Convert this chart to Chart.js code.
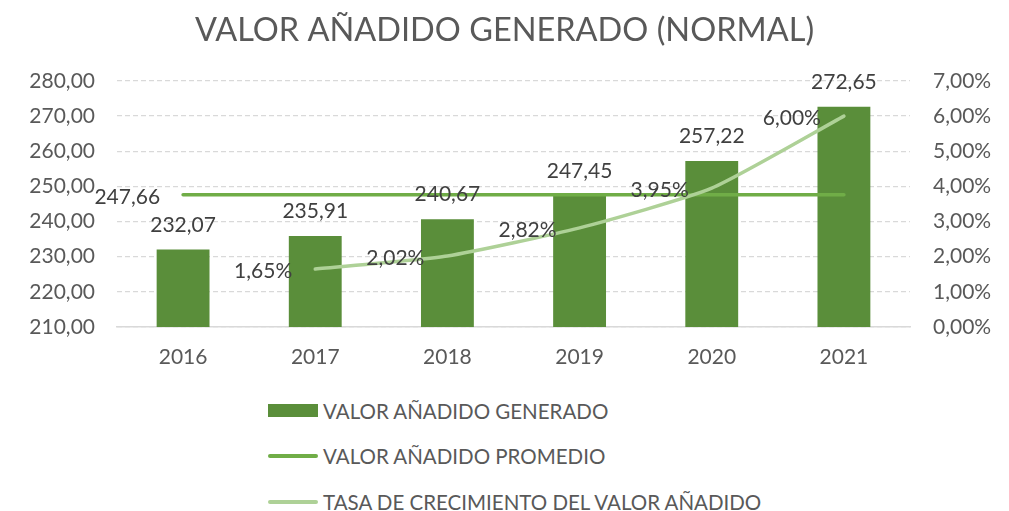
<!DOCTYPE html>
<html lang="es">
<head>
<meta charset="utf-8">
<title>Valor añadido generado</title>
<script src="https://cdn.jsdelivr.net/npm/chart.js@4.4.1/dist/chart.umd.min.js"></script>
<style>
  html, body { margin: 0; padding: 0; background: #fff; }
  body { width: 1009px; height: 511px; position: relative; overflow: hidden; font-family: Lato, sans-serif; }
  #wrap { position: absolute; left: 0; top: 0; width: 1009px; height: 385px; }
  #legend { position: absolute; left: 268px; top: 388px; }
  .item { display: flex; align-items: center; height: 45.5px; color: #595959; font-size: 20.5px; line-height: 1; }
  .swatch { width: 50px; margin-right: 5px; }
</style>
</head>
<body>
<div id="wrap"><canvas id="chart"></canvas></div>
<div id="legend"></div>
<script>
// Valor añadido

const YEARS = ['2016', '2017', '2018', '2019', '2020', '2021'];
const VALOR_GENERADO = [232.07, 235.91, 240.67, 247.45, 257.22, 272.65];
const VALOR_PROMEDIO = 247.66;
const TASA_CRECIMIENTO = [null, 1.65, 2.02, 2.82, 3.95, 6.00];
const LEFT_TICKS = [210, 220, 230, 240, 250, 260, 270, 280];
const RIGHT_TICKS = [0, 1, 2, 3, 4, 5, 6, 7];

const COLOR = {
  bar: '#5a8e3a',
  avg: '#70ad47',
  growth: '#aed197',
  text: '#595959',
  label: '#404040',
  grid: '#d9d9d9',
};

const FONT = 'Lato';
const comma = v => v.toFixed(2).replace('.', ',');

// etiquetas de datos (sin plugin externo)
const dataLabels = {
  id: 'dataLabels',
  afterDatasetsDraw(chart) {
    const ctx = chart.ctx;
    ctx.save();
    ctx.font = `21px ${FONT}`;
    ctx.fillStyle = COLOR.label;

    // barras: encima, centrado
    ctx.textAlign = 'center';
    ctx.textBaseline = 'bottom';
    chart.getDatasetMeta(0).data.forEach((el, i) => {
      ctx.fillText(comma(VALOR_GENERADO[i]), el.x, el.y - 14);
    });

    // promedio: solo el primer punto, a la izquierda
    ctx.textAlign = 'right';
    ctx.textBaseline = 'middle';
    const first = chart.getDatasetMeta(1).data[0];
    ctx.fillText(comma(VALOR_PROMEDIO), first.x - 23, first.y + 3);

    // tasa: a la izquierda de cada punto
    chart.getDatasetMeta(2).data.forEach((el, i) => {
      if (TASA_CRECIMIENTO[i] == null) return;
      ctx.fillText(comma(TASA_CRECIMIENTO[i]) + '%', el.x - 23, el.y + 2);
    });
    ctx.restore();
  },
};

const chart = new Chart(document.getElementById('chart'), {
  type: 'bar',
  data: {
    labels: YEARS,
    datasets: [{
      label: 'VALOR AÑADIDO GENERADO',
      data: VALOR_GENERADO,
      backgroundColor: COLOR.bar,
      barPercentage: 0.4,
      categoryPercentage: 1,
      yAxisID: 'y',
      order: 3,
    }, {
      type: 'line',
      label: 'VALOR AÑADIDO PROMEDIO',
      data: YEARS.map(() => VALOR_PROMEDIO),
      borderColor: COLOR.avg,
      borderWidth: 3.5,
      pointRadius: 0,
      borderCapStyle: 'round',
      yAxisID: 'y',
      order: 2,
    }, {
      type: 'line',
      label: 'TASA DE CRECIMIENTO DEL VALOR AÑADIDO',
      data: TASA_CRECIMIENTO,
      borderColor: COLOR.growth,
      borderWidth: 3.5,
      pointRadius: 0,
      tension: 0.18,
      borderCapStyle: 'round',
      yAxisID: 'y1',
      order: 1,
    }],
  },
  options: {
    responsive: true,
    maintainAspectRatio: false,
    animation: false,
    layout: { padding: 0 },
    plugins: {
      legend: { display: false },
      tooltip: { enabled: false },
      title: {
        display: true,
        text: 'VALOR AÑADIDO GENERADO (NORMAL)',
        color: COLOR.text,
        font: { family: FONT, size: 32.5, weight: 'normal' },
        padding: { top: 11, bottom: 31 },
      },
    },
    scales: {
      x: {
        grid: { display: false, drawTicks: false },
        border: { display: true, color: COLOR.grid, width: 1.5 },
        ticks: { color: COLOR.text, font: { family: FONT, size: 21 }, padding: 18 },
        afterFit: s => { s.height = 58; },
      },
      y: {
        position: 'left',
        min: 210,
        max: 280,
        afterBuildTicks: s => { s.ticks = LEFT_TICKS.map(v => ({ value: v })); },
        ticks: { color: COLOR.text, font: { family: FONT, size: 21 }, padding: 22, callback: v => comma(v) },
        grid: { color: COLOR.grid, lineWidth: 1.3, drawTicks: false },
        border: { display: false, dash: [5, 3] },
        afterFit: s => { s.width = 117; },
      },
      y1: {
        position: 'right',
        min: 0,
        max: 7,
        afterBuildTicks: s => { s.ticks = RIGHT_TICKS.map(v => ({ value: v })); },
        ticks: { color: COLOR.text, font: { family: FONT, size: 21 }, padding: 23, callback: v => comma(v) + '%' },
        grid: { display: false, drawTicks: false },
        border: { display: false },
        afterFit: s => { s.width = 99; },
      },
    },
  },
  plugins: [dataLabels],
});

// leyenda vertical, alineada a la izquierda
const legendEl = document.getElementById('legend');
legendEl.innerHTML = chart.data.datasets.map((d, i) => {
  const sw = i === 0
    ? `<div class="swatch" style="height:13px;background:${d.backgroundColor}"></div>`
    : `<div class="swatch" style="height:4px;border-radius:2px;background:${d.borderColor}"></div>`;
  return `<div class="item">${sw}<span>${d.label}</span></div>`;
}).join('');
</script>
</body>
</html>
